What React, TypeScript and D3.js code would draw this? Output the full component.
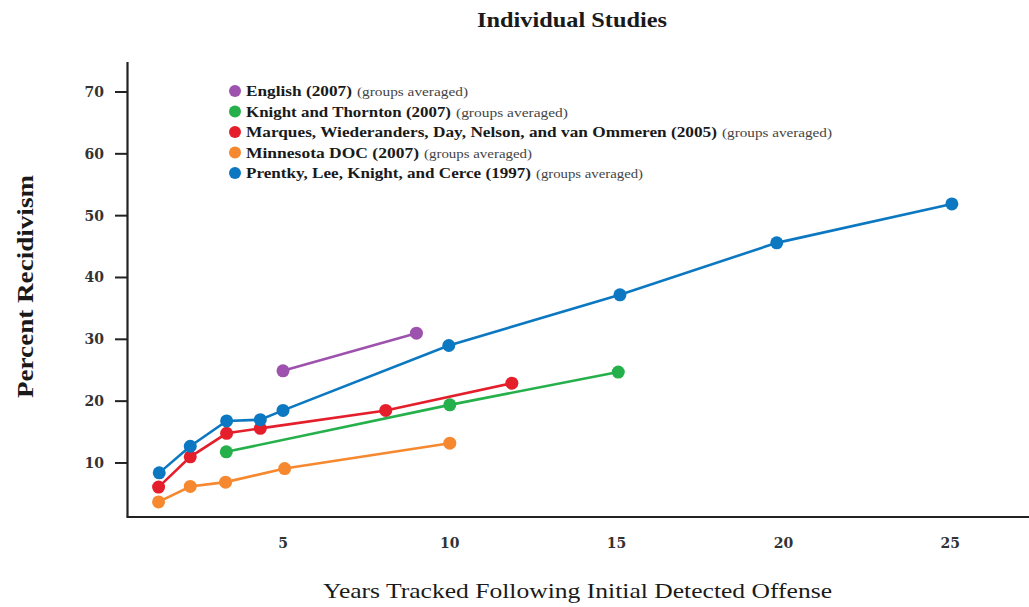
import React from "react";
import * as d3 from "d3";

const xTicks = [5, 10, 15, 20, 25];
const yTicks = [10, 20, 30, 40, 50, 60, 70];

const englishX = [5.0, 9.0];
const englishY = [24.9, 31.0];
const knightX = [3.3, 10.0, 15.05];
const knightY = [11.8, 19.4, 24.7];
const marquesX = [1.27, 2.22, 3.31, 4.32, 8.08, 11.86];
const marquesY = [6.1, 11.0, 14.8, 15.6, 18.5, 22.9];
const minnesotaX = [1.27, 2.22, 3.28, 5.05, 10.0];
const minnesotaY = [3.7, 6.2, 6.9, 9.1, 13.2];
const prentkyX = [1.29, 2.22, 3.31, 4.32, 5.0, 9.97, 15.1, 19.8, 25.05];
const prentkyY = [8.4, 12.7, 16.8, 17.0, 18.5, 29.0, 37.2, 45.6, 51.9];

const seriesNames = [
  "English (2007)",
  "Knight and Thornton (2007)",
  "Marques, Wiederanders, Day, Nelson, and van Ommeren (2005)",
  "Minnesota DOC (2007)",
  "Prentky, Lee, Knight, and Cerce (1997)",
];
const seriesNote = "(groups averaged)";
const seriesColors = ["#9d52ad", "#25b04b", "#e41f2b", "#f6882f", "#0b78c1"];

const series = [
  { xs: englishX, ys: englishY },
  { xs: knightX, ys: knightY },
  { xs: marquesX, ys: marquesY },
  { xs: minnesotaX, ys: minnesotaY },
  { xs: prentkyX, ys: prentkyY },
];

const FONT = "'Liberation Serif', 'DejaVu Serif', serif";
const TICKFONT = "'DejaVu Serif', 'Liberation Serif', serif";

// measured widths of legend text in the reference (px)
const nameWidths = [106, 205, 471, 173, 285];
const noteWidths = [111, 112, 110, 108, 107];

export default function App() {
  const x = d3.scaleLinear().domain([0, 25]).range([116.2, 950.2]);
  const y = d3.scaleLinear().domain([0, 70]).range([524.8, 92]);
  const line = d3
    .line<[number, number]>()
    .x((d) => x(d[0]))
    .y((d) => y(d[1]));

  const axisLeft = 127.5;
  const axisBottom = 517;

  return (
    <svg
      width={1029}
      height={607}
      style={{ position: "absolute", left: 0, top: 0, background: "#fff" }}
      fontFamily={FONT}
    >
      <rect x={0} y={0} width={1029} height={607} fill="#fff" />
      {/* Title */}
      <text
        x={477}
        y={27}
        fontSize={21}
        fontWeight={600}
        fill="#1a1a1a"
        textLength={190}
        lengthAdjust="spacingAndGlyphs"
      >
        Individual Studies
      </text>

      {/* Axes */}
      <line x1={axisLeft} x2={axisLeft} y1={62} y2={axisBottom} stroke="#222" strokeWidth={2.2} />
      <line x1={axisLeft - 1} x2={1029} y1={axisBottom} y2={axisBottom} stroke="#222" strokeWidth={2.2} />
      {yTicks.map((t) => (
        <g key={t}>
          <line x1={115} x2={axisLeft} y1={y(t)} y2={y(t)} stroke="#222" strokeWidth={2} />
          <text
            x={104}
            y={y(t) + 5}
            textAnchor="end"
            fontFamily={TICKFONT}
            fontSize={14}
            fontWeight={700}
            fill="#333"
          >
            {t}
          </text>
        </g>
      ))}
      {xTicks.map((t) => (
        <text
          key={t}
          x={x(t)}
          y={548}
          textAnchor="middle"
          fontFamily={TICKFONT}
          fontSize={14}
          fontWeight={700}
          fill="#333"
        >
          {t}
        </text>
      ))}

      {/* Axis titles */}
      <text
        transform={`translate(33,398) rotate(-90)`}
        fontSize={24}
        fontWeight={600}
        fill="#1a1a1a"
        textLength={223}
        lengthAdjust="spacingAndGlyphs"
      >
        Percent Recidivism
      </text>
      <text
        x={323}
        y={598}
        fontSize={22}
        fill="#1a1a1a"
        textLength={509}
        lengthAdjust="spacingAndGlyphs"
      >
        Years Tracked Following Initial Detected Offense
      </text>

      {/* Series */}
      {series.map((s, i) => {
        const pts = s.xs.map((v, j) => [v, s.ys[j]] as [number, number]);
        return (
          <g key={i}>
            <path d={line(pts) || ""} fill="none" stroke={seriesColors[i]} strokeWidth={2.6} />
            {pts.map((p, j) => (
              <circle key={j} cx={x(p[0])} cy={y(p[1])} r={6.5} fill={seriesColors[i]} />
            ))}
          </g>
        );
      })}

      {/* Legend */}
      {seriesNames.map((name, i) => {
        const ly = 91 + i * 20.5;
        return (
          <g key={name}>
            <circle cx={235} cy={ly} r={6} fill={seriesColors[i]} />
            <text
              x={246}
              y={ly + 5}
              fontSize={15}
              fontWeight={700}
              fill="#1a1a1a"
              textLength={nameWidths[i]}
              lengthAdjust="spacingAndGlyphs"
            >
              {name}
            </text>
            <text
              x={246 + nameWidths[i] + 5}
              y={ly + 5}
              fontSize={12.5}
              fill="#444"
              textLength={noteWidths[i]}
              lengthAdjust="spacingAndGlyphs"
            >
              {seriesNote}
            </text>
          </g>
        );
      })}
    </svg>
  );
}
